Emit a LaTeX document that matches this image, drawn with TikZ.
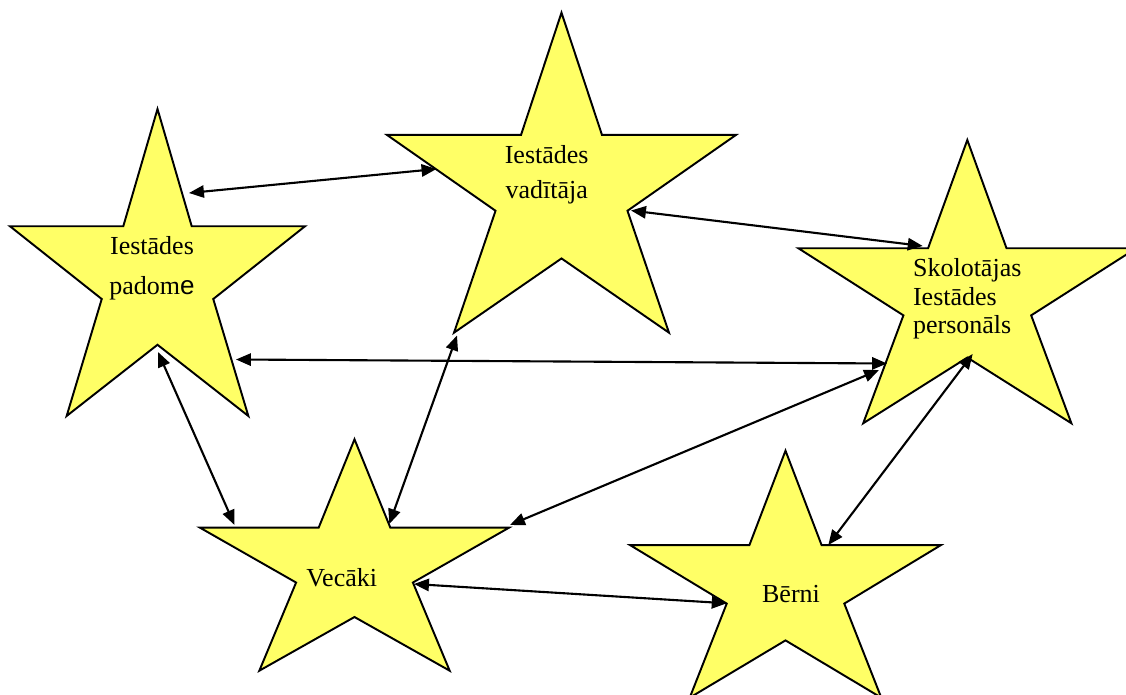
\documentclass[tikz,border=0pt]{standalone}
\usepackage{fontspec}
\setmainfont{Liberation Serif}
\newfontfamily\arialfont{Liberation Sans}
\usepackage{tikz}
\usetikzlibrary{arrows.meta}
\definecolor{staryellow}{HTML}{FFFF66}
\tikzstyle{starfill} = [draw=black, fill=staryellow, line width=1.1pt, line join=miter]
\tikzstyle{startext} = [align=center, inner sep=0pt, anchor=base, font=\fontsize{14.8}{23}\selectfont]
\tikzstyle{link} = [line width=1.2pt, {Triangle[length=8.5pt,width=7pt]}-{Triangle[length=8.5pt,width=7pt]}]
% five-pointed star fitted in the box (x0,y0), width, height
\newcommand{\drawstar}[4]{%
  \draw[starfill] ({#1+0.5*#3},{#2}) -- ({#1+0.616*#3},{#2+0.382*#4}) -- ({#1+#3},{#2+0.382*#4})
    -- ({#1+0.689*#3},{#2+0.619*#4}) -- ({#1+0.808*#3},{#2+#4}) -- ({#1+0.5*#3},{#2+0.768*#4})
    -- ({#1+0.192*#3},{#2+#4}) -- ({#1+0.311*#3},{#2+0.619*#4}) -- ({#1},{#2+0.382*#4})
    -- ({#1+0.384*#3},{#2+0.382*#4}) -- cycle;}
\begin{document}
\begin{tikzpicture}[x=0.02cm, y=-0.02cm]
		\useasboundingbox (0,0) rectangle (1126,695);
		% stars
		\drawstar{10}{109}{295}{307}
		\drawstar{387}{12.7}{349}{320}
		\drawstar{798.3}{140}{338}{283.3}
		\drawstar{200}{439.3}{309}{231.4}
		\drawstar{630}{450.7}{311}{247}
		% texts (base = last line)
		\node (Padome) [startext] at (152,295) {Iestādes\\padom{\arialfont e}};
		\node (Vaditaja) [startext, font=\fontsize{14.8}{19.8}\selectfont] at (546.7,198.3) {Iestādes\\vadītāja};
		\node (Personals) [startext, align=left, anchor=base west, font=\fontsize{14.8}{16.5}\selectfont] at (912.7,334) {Skolotājas\\Iestādes\\personāls};
		\node (Vecaki) [startext] at (341.7,586.7) {Vecāki};
		\node (Berni) [startext] at (791,602.7) {Bērni};
		% arrow ends
		\coordinate (PadomeA) at (189,193);
		\coordinate (PadomeB) at (236,359.5);
		\coordinate (PadomeC) at (158,352);
		\coordinate (VaditajaA) at (436.5,169);
		\coordinate (VaditajaB) at (631,210.5);
		\coordinate (VaditajaC) at (457,335.5);
		\coordinate (PersonalsA) at (922.7,246);
		\coordinate (PersonalsB) at (887,363.5);
		\coordinate (PersonalsC) at (879,370);
		\coordinate (PersonalsD) at (972.7,354);
		\coordinate (VecakiA) at (234.5,525);
		\coordinate (VecakiB) at (389.3,524);
		\coordinate (VecakiC) at (510,525);
		\coordinate (VecakiD) at (414,584);
		\coordinate (BerniA) at (828.3,545);
		\coordinate (BerniB) at (726.7,603.3);
		% connectors
		\draw [link] (PadomeA) -- (VaditajaA);
		\draw [link] (VaditajaB) -- (PersonalsA);
		\draw [link] (PadomeB) -- (PersonalsB);
		\draw [link] (PadomeC) -- (VecakiA);
		\draw [link] (VaditajaC) -- (VecakiB);
		\draw [link] (PersonalsC) -- (VecakiC);
		\draw [link] (PersonalsD) -- (BerniA);
		\draw [link] (VecakiD) -- (BerniB);
\end{tikzpicture}
\end{document}
